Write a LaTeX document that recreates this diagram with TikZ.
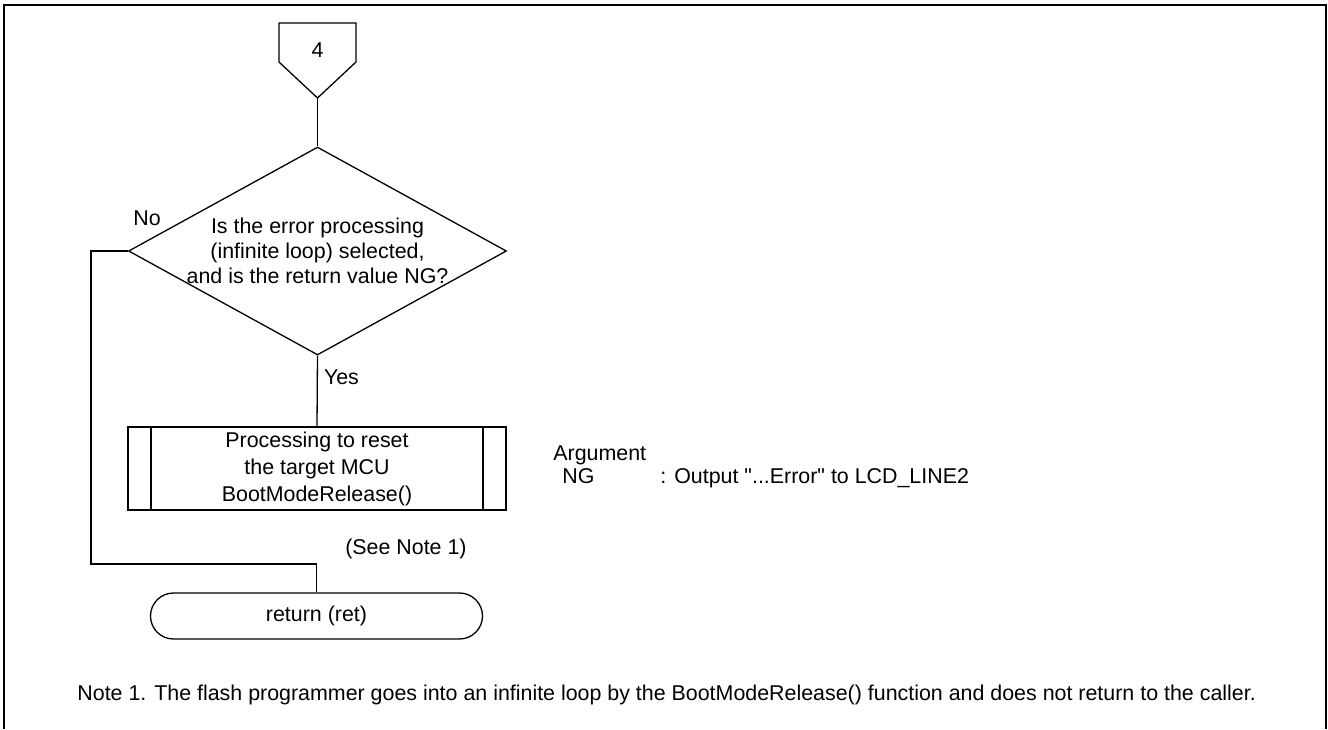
\documentclass[tikz,border=0pt]{standalone}
\usepackage{fontspec}
\setmainfont{Liberation Sans}[Ligatures=TeXOff]
\usetikzlibrary{shapes.geometric,shapes.misc}
\tikzset{
  flow/.style={line width=0.65pt},
  txt/.style={inner sep=0pt},
  decision/.style={diamond, draw, flow, minimum width=189pt, minimum height=104pt, inner sep=0pt},
  predef/.style={rectangle, draw, flow, minimum width=189pt, minimum height=41.5pt, inner sep=0pt,
    align=center, font=\fontsize{10.7pt}{13.5pt}\selectfont,
    path picture={\draw[flow]
      ([xshift=11.5pt]path picture bounding box.north west) -- ([xshift=11.5pt]path picture bounding box.south west)
      ([xshift=-11.5pt]path picture bounding box.north east) -- ([xshift=-11.5pt]path picture bounding box.south east);}},
  terminal/.style={rounded rectangle, draw, flow, minimum width=166pt, minimum height=23pt, inner sep=0pt}
}

\begin{document}
\begin{tikzpicture}[x=0.5pt, y=-0.5pt, font=\fontsize{10.7pt}{12.5pt}\selectfont]
\useasboundingbox (0,0) rectangle (1328,729);
\draw[line width=1.35pt] (4,729) -- (4,5) -- (1326,5) -- (1326,729);

% off-page connector
\node[txt] (C4) at (317.5,50) {4};
\coordinate (C4tip) at (317.5,98);
\draw[flow] (279,23) -- (356,23) -- (356,62) -- (C4tip) -- (279,62) -- cycle;

\node[decision] (DEC) at (317.5,251) {};
\node[txt, align=center] (DECtxt) at (DEC.center) {Is the error processing\\(infinite loop) selected,\\and is the return value NG?};
\node[predef] (PROC) at (317,468.5) {Processing to reset\\the target MCU\\BootModeRelease()};
\node[txt, anchor=east] (SEE) at (467,549) {(See Note 1)};
\node[terminal] (RET) at (316.5,616) {return (ret)};
\coordinate (JOIN) at (316.5,564);

\draw[flow] (C4tip) -- (DEC.north);
\draw[flow] (DEC.south) -- node[txt, pos=0.3, anchor=west, xshift=3pt] (YES) {Yes} (PROC.north);
\node[txt] (NO) at (147,218) {No};
\draw[flow] (DEC.west) -- ++(-37,0) |- (JOIN) -- (RET.north);

\node[txt, anchor=base west] (ARG) at (553,460) {Argument};
\node[txt, anchor=base west] (NG) at (562,483) {NG};
\node[txt, anchor=base west] (NGOUT) at (660,483) {: Output "...Error" to LCD\_LINE2};

\node[txt, anchor=base west] (NOTE) at (77,700) {Note 1. The flash programmer goes into an infinite loop by the BootModeRelease() function and does not return to the caller.};
\end{tikzpicture}
\end{document}
